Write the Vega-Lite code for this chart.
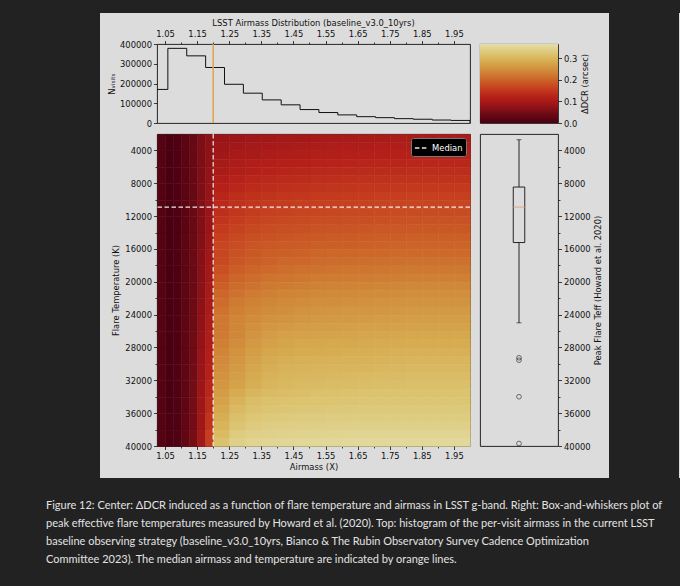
{
  "$schema": "https://vega.github.io/schema/vega-lite/v6.json",
  "background": "#dcdcdc",
  "padding": 0,
  "spacing": 0,
  "config": {
    "font": "DejaVu Sans",
    "view": {"stroke": "#111111", "strokeWidth": 0.9},
    "axis": {
      "domain": false, "grid": false,
      "labelFont": "DejaVu Sans", "labelFontSize": 8.4, "labelColor": "#111111", "labelPadding": 2,
      "titleFont": "DejaVu Sans", "titleFontSize": 8.4, "titleFontWeight": "normal", "titleColor": "#111111",
      "tickColor": "#111111", "tickWidth": 0.8, "tickSize": 3.5
    },
    "title": {"font": "DejaVu Sans", "fontSize": 8.4, "fontWeight": "normal", "color": "#111111"}
  },
  "datasets": {
    "hist": [
      {"e": 1.0, "n": 170000}, {"e": 1.0588, "n": 378000}, {"e": 1.1176, "n": 340000},
      {"e": 1.1765, "n": 281000}, {"e": 1.2353, "n": 196000}, {"e": 1.2941, "n": 151000},
      {"e": 1.3529, "n": 117000}, {"e": 1.4118, "n": 92000}, {"e": 1.4706, "n": 68000},
      {"e": 1.5294, "n": 53000}, {"e": 1.5882, "n": 41000}, {"e": 1.6471, "n": 32000},
      {"e": 1.7059, "n": 27000}, {"e": 1.7647, "n": 22000}, {"e": 1.8235, "n": 19000},
      {"e": 1.8824, "n": 15000}, {"e": 1.9412, "n": 13000}, {"e": 2.0, "n": 0}
    ],
    "box": [{"s": "H", "lo": 2700, "q1": 8460, "med": 10900, "q3": 15220, "hi": 25000}],
    "out": [{"s": "H", "t": 29250}, {"s": "H", "t": 29550}, {"s": "H", "t": 34000}, {"s": "H", "t": 39700}],
    "hl": [
      {"a":1.025,"t":2000,"v":0.012},{"a":1.05,"t":2000,"v":0},{"a":1.075,"t":2000,"v":0.005},{"a":1.1,"t":2000,"v":0.02},{"a":1.125,"t":2000,"v":0.035},{"a":1.15,"t":2000,"v":0.055},{"a":1.175,"t":2000,"v":0.07},
      {"a":1.025,"t":4000,"v":0.012},{"a":1.05,"t":4000,"v":0},{"a":1.075,"t":4000,"v":0.005},{"a":1.1,"t":4000,"v":0.02},{"a":1.125,"t":4000,"v":0.035},{"a":1.15,"t":4000,"v":0.056},{"a":1.175,"t":4000,"v":0.072},
      {"a":1.025,"t":6000,"v":0.012},{"a":1.05,"t":6000,"v":0},{"a":1.075,"t":6000,"v":0.005},{"a":1.1,"t":6000,"v":0.02},{"a":1.125,"t":6000,"v":0.036},{"a":1.15,"t":6000,"v":0.057},{"a":1.175,"t":6000,"v":0.075},
      {"a":1.025,"t":8000,"v":0.012},{"a":1.05,"t":8000,"v":0},{"a":1.075,"t":8000,"v":0.005},{"a":1.1,"t":8000,"v":0.021},{"a":1.125,"t":8000,"v":0.036},{"a":1.15,"t":8000,"v":0.058},{"a":1.175,"t":8000,"v":0.078},
      {"a":1.025,"t":10000,"v":0.012},{"a":1.05,"t":10000,"v":0},{"a":1.075,"t":10000,"v":0.005},{"a":1.1,"t":10000,"v":0.021},{"a":1.125,"t":10000,"v":0.037},{"a":1.15,"t":10000,"v":0.059},{"a":1.175,"t":10000,"v":0.081},
      {"a":1.025,"t":12000,"v":0.012},{"a":1.05,"t":12000,"v":0},{"a":1.075,"t":12000,"v":0.005},{"a":1.1,"t":12000,"v":0.021},{"a":1.125,"t":12000,"v":0.037},{"a":1.15,"t":12000,"v":0.06},{"a":1.175,"t":12000,"v":0.084},
      {"a":1.025,"t":14000,"v":0.012},{"a":1.05,"t":14000,"v":0},{"a":1.075,"t":14000,"v":0.005},{"a":1.1,"t":14000,"v":0.022},{"a":1.125,"t":14000,"v":0.038},{"a":1.15,"t":14000,"v":0.062},{"a":1.175,"t":14000,"v":0.087},
      {"a":1.025,"t":16000,"v":0.012},{"a":1.05,"t":16000,"v":0},{"a":1.075,"t":16000,"v":0.005},{"a":1.1,"t":16000,"v":0.022},{"a":1.125,"t":16000,"v":0.039},{"a":1.15,"t":16000,"v":0.064},{"a":1.175,"t":16000,"v":0.091},
      {"a":1.025,"t":18000,"v":0.012},{"a":1.05,"t":18000,"v":0},{"a":1.075,"t":18000,"v":0.005},{"a":1.1,"t":18000,"v":0.022},{"a":1.125,"t":18000,"v":0.04},{"a":1.15,"t":18000,"v":0.066},{"a":1.175,"t":18000,"v":0.095},
      {"a":1.025,"t":20000,"v":0.012},{"a":1.05,"t":20000,"v":0},{"a":1.075,"t":20000,"v":0.005},{"a":1.1,"t":20000,"v":0.023},{"a":1.125,"t":20000,"v":0.041},{"a":1.15,"t":20000,"v":0.068},{"a":1.175,"t":20000,"v":0.099},
      {"a":1.025,"t":22000,"v":0.012},{"a":1.05,"t":22000,"v":0},{"a":1.075,"t":22000,"v":0.005},{"a":1.1,"t":22000,"v":0.023},{"a":1.125,"t":22000,"v":0.042},{"a":1.15,"t":22000,"v":0.07},{"a":1.175,"t":22000,"v":0.103},
      {"a":1.025,"t":24000,"v":0.012},{"a":1.05,"t":24000,"v":0},{"a":1.075,"t":24000,"v":0.005},{"a":1.1,"t":24000,"v":0.024},{"a":1.125,"t":24000,"v":0.043},{"a":1.15,"t":24000,"v":0.073},{"a":1.175,"t":24000,"v":0.107},
      {"a":1.025,"t":26000,"v":0.012},{"a":1.05,"t":26000,"v":0},{"a":1.075,"t":26000,"v":0.005},{"a":1.1,"t":26000,"v":0.024},{"a":1.125,"t":26000,"v":0.044},{"a":1.15,"t":26000,"v":0.076},{"a":1.175,"t":26000,"v":0.111},
      {"a":1.025,"t":28000,"v":0.012},{"a":1.05,"t":28000,"v":0},{"a":1.075,"t":28000,"v":0.005},{"a":1.1,"t":28000,"v":0.025},{"a":1.125,"t":28000,"v":0.045},{"a":1.15,"t":28000,"v":0.079},{"a":1.175,"t":28000,"v":0.116},
      {"a":1.025,"t":30000,"v":0.012},{"a":1.05,"t":30000,"v":0},{"a":1.075,"t":30000,"v":0.006},{"a":1.1,"t":30000,"v":0.025},{"a":1.125,"t":30000,"v":0.046},{"a":1.15,"t":30000,"v":0.082},{"a":1.175,"t":30000,"v":0.121},
      {"a":1.025,"t":32000,"v":0.012},{"a":1.05,"t":32000,"v":0},{"a":1.075,"t":32000,"v":0.006},{"a":1.1,"t":32000,"v":0.026},{"a":1.125,"t":32000,"v":0.047},{"a":1.15,"t":32000,"v":0.085},{"a":1.175,"t":32000,"v":0.127},
      {"a":1.025,"t":34000,"v":0.012},{"a":1.05,"t":34000,"v":0},{"a":1.075,"t":34000,"v":0.006},{"a":1.1,"t":34000,"v":0.026},{"a":1.125,"t":34000,"v":0.048},{"a":1.15,"t":34000,"v":0.088},{"a":1.175,"t":34000,"v":0.135},
      {"a":1.025,"t":36000,"v":0.012},{"a":1.05,"t":36000,"v":0.001},{"a":1.075,"t":36000,"v":0.006},{"a":1.1,"t":36000,"v":0.027},{"a":1.125,"t":36000,"v":0.049},{"a":1.15,"t":36000,"v":0.091},{"a":1.175,"t":36000,"v":0.145},
      {"a":1.025,"t":38000,"v":0.012},{"a":1.05,"t":38000,"v":0.001},{"a":1.075,"t":38000,"v":0.007},{"a":1.1,"t":38000,"v":0.027},{"a":1.125,"t":38000,"v":0.05},{"a":1.15,"t":38000,"v":0.095},{"a":1.175,"t":38000,"v":0.158}
    ],
    "hr": [
      {"a":1.2,"t":2000,"v":0.081},{"a":1.25,"t":2000,"v":0.086},{"a":1.3,"t":2000,"v":0.09},{"a":1.35,"t":2000,"v":0.093},{"a":1.4,"t":2000,"v":0.095},{"a":1.45,"t":2000,"v":0.097},{"a":1.5,"t":2000,"v":0.1},{"a":1.55,"t":2000,"v":0.101},{"a":1.6,"t":2000,"v":0.102},{"a":1.65,"t":2000,"v":0.103},{"a":1.7,"t":2000,"v":0.104},{"a":1.75,"t":2000,"v":0.105},{"a":1.8,"t":2000,"v":0.106},{"a":1.85,"t":2000,"v":0.106},{"a":1.9,"t":2000,"v":0.106},{"a":1.95,"t":2000,"v":0.106},
      {"a":1.2,"t":3000,"v":0.088},{"a":1.25,"t":3000,"v":0.094},{"a":1.3,"t":3000,"v":0.098},{"a":1.35,"t":3000,"v":0.101},{"a":1.4,"t":3000,"v":0.103},{"a":1.45,"t":3000,"v":0.105},{"a":1.5,"t":3000,"v":0.108},{"a":1.55,"t":3000,"v":0.109},{"a":1.6,"t":3000,"v":0.11},{"a":1.65,"t":3000,"v":0.111},{"a":1.7,"t":3000,"v":0.112},{"a":1.75,"t":3000,"v":0.113},{"a":1.8,"t":3000,"v":0.114},{"a":1.85,"t":3000,"v":0.114},{"a":1.9,"t":3000,"v":0.114},{"a":1.95,"t":3000,"v":0.114},
      {"a":1.2,"t":4000,"v":0.093},{"a":1.25,"t":4000,"v":0.1},{"a":1.3,"t":4000,"v":0.104},{"a":1.35,"t":4000,"v":0.107},{"a":1.4,"t":4000,"v":0.11},{"a":1.45,"t":4000,"v":0.112},{"a":1.5,"t":4000,"v":0.115},{"a":1.55,"t":4000,"v":0.116},{"a":1.6,"t":4000,"v":0.117},{"a":1.65,"t":4000,"v":0.118},{"a":1.7,"t":4000,"v":0.119},{"a":1.75,"t":4000,"v":0.12},{"a":1.8,"t":4000,"v":0.121},{"a":1.85,"t":4000,"v":0.121},{"a":1.9,"t":4000,"v":0.121},{"a":1.95,"t":4000,"v":0.121},
      {"a":1.2,"t":5000,"v":0.099},{"a":1.25,"t":5000,"v":0.107},{"a":1.3,"t":5000,"v":0.112},{"a":1.35,"t":5000,"v":0.115},{"a":1.4,"t":5000,"v":0.118},{"a":1.45,"t":5000,"v":0.12},{"a":1.5,"t":5000,"v":0.123},{"a":1.55,"t":5000,"v":0.124},{"a":1.6,"t":5000,"v":0.125},{"a":1.65,"t":5000,"v":0.126},{"a":1.7,"t":5000,"v":0.127},{"a":1.75,"t":5000,"v":0.128},{"a":1.8,"t":5000,"v":0.129},{"a":1.85,"t":5000,"v":0.129},{"a":1.9,"t":5000,"v":0.129},{"a":1.95,"t":5000,"v":0.129},
      {"a":1.2,"t":6000,"v":0.106},{"a":1.25,"t":6000,"v":0.114},{"a":1.3,"t":6000,"v":0.119},{"a":1.35,"t":6000,"v":0.122},{"a":1.4,"t":6000,"v":0.125},{"a":1.45,"t":6000,"v":0.127},{"a":1.5,"t":6000,"v":0.13},{"a":1.55,"t":6000,"v":0.131},{"a":1.6,"t":6000,"v":0.132},{"a":1.65,"t":6000,"v":0.133},{"a":1.7,"t":6000,"v":0.134},{"a":1.75,"t":6000,"v":0.135},{"a":1.8,"t":6000,"v":0.136},{"a":1.85,"t":6000,"v":0.136},{"a":1.9,"t":6000,"v":0.136},{"a":1.95,"t":6000,"v":0.136},
      {"a":1.2,"t":7000,"v":0.114},{"a":1.25,"t":7000,"v":0.122},{"a":1.3,"t":7000,"v":0.127},{"a":1.35,"t":7000,"v":0.13},{"a":1.4,"t":7000,"v":0.133},{"a":1.45,"t":7000,"v":0.135},{"a":1.5,"t":7000,"v":0.138},{"a":1.55,"t":7000,"v":0.139},{"a":1.6,"t":7000,"v":0.14},{"a":1.65,"t":7000,"v":0.141},{"a":1.7,"t":7000,"v":0.142},{"a":1.75,"t":7000,"v":0.143},{"a":1.8,"t":7000,"v":0.144},{"a":1.85,"t":7000,"v":0.144},{"a":1.9,"t":7000,"v":0.144},{"a":1.95,"t":7000,"v":0.144},
      {"a":1.2,"t":8000,"v":0.121},{"a":1.25,"t":8000,"v":0.129},{"a":1.3,"t":8000,"v":0.134},{"a":1.35,"t":8000,"v":0.137},{"a":1.4,"t":8000,"v":0.14},{"a":1.45,"t":8000,"v":0.142},{"a":1.5,"t":8000,"v":0.145},{"a":1.55,"t":8000,"v":0.146},{"a":1.6,"t":8000,"v":0.147},{"a":1.65,"t":8000,"v":0.148},{"a":1.7,"t":8000,"v":0.149},{"a":1.75,"t":8000,"v":0.15},{"a":1.8,"t":8000,"v":0.151},{"a":1.85,"t":8000,"v":0.151},{"a":1.9,"t":8000,"v":0.151},{"a":1.95,"t":8000,"v":0.151},
      {"a":1.2,"t":9000,"v":0.127},{"a":1.25,"t":9000,"v":0.136},{"a":1.3,"t":9000,"v":0.142},{"a":1.35,"t":9000,"v":0.145},{"a":1.4,"t":9000,"v":0.148},{"a":1.45,"t":9000,"v":0.15},{"a":1.5,"t":9000,"v":0.153},{"a":1.55,"t":9000,"v":0.154},{"a":1.6,"t":9000,"v":0.155},{"a":1.65,"t":9000,"v":0.156},{"a":1.7,"t":9000,"v":0.157},{"a":1.75,"t":9000,"v":0.158},{"a":1.8,"t":9000,"v":0.159},{"a":1.85,"t":9000,"v":0.159},{"a":1.9,"t":9000,"v":0.159},{"a":1.95,"t":9000,"v":0.159},
      {"a":1.2,"t":10000,"v":0.131},{"a":1.25,"t":10000,"v":0.141},{"a":1.3,"t":10000,"v":0.148},{"a":1.35,"t":10000,"v":0.152},{"a":1.4,"t":10000,"v":0.155},{"a":1.45,"t":10000,"v":0.157},{"a":1.5,"t":10000,"v":0.16},{"a":1.55,"t":10000,"v":0.161},{"a":1.6,"t":10000,"v":0.162},{"a":1.65,"t":10000,"v":0.163},{"a":1.7,"t":10000,"v":0.164},{"a":1.75,"t":10000,"v":0.165},{"a":1.8,"t":10000,"v":0.166},{"a":1.85,"t":10000,"v":0.166},{"a":1.9,"t":10000,"v":0.166},{"a":1.95,"t":10000,"v":0.166},
      {"a":1.2,"t":11000,"v":0.138},{"a":1.25,"t":11000,"v":0.148},{"a":1.3,"t":11000,"v":0.155},{"a":1.35,"t":11000,"v":0.159},{"a":1.4,"t":11000,"v":0.162},{"a":1.45,"t":11000,"v":0.164},{"a":1.5,"t":11000,"v":0.167},{"a":1.55,"t":11000,"v":0.168},{"a":1.6,"t":11000,"v":0.169},{"a":1.65,"t":11000,"v":0.17},{"a":1.7,"t":11000,"v":0.171},{"a":1.75,"t":11000,"v":0.172},{"a":1.8,"t":11000,"v":0.173},{"a":1.85,"t":11000,"v":0.173},{"a":1.9,"t":11000,"v":0.173},{"a":1.95,"t":11000,"v":0.173},
      {"a":1.2,"t":12000,"v":0.145},{"a":1.25,"t":12000,"v":0.155},{"a":1.3,"t":12000,"v":0.162},{"a":1.35,"t":12000,"v":0.166},{"a":1.4,"t":12000,"v":0.169},{"a":1.45,"t":12000,"v":0.171},{"a":1.5,"t":12000,"v":0.174},{"a":1.55,"t":12000,"v":0.175},{"a":1.6,"t":12000,"v":0.176},{"a":1.65,"t":12000,"v":0.177},{"a":1.7,"t":12000,"v":0.178},{"a":1.75,"t":12000,"v":0.179},{"a":1.8,"t":12000,"v":0.18},{"a":1.85,"t":12000,"v":0.18},{"a":1.9,"t":12000,"v":0.18},{"a":1.95,"t":12000,"v":0.18},
      {"a":1.2,"t":13000,"v":0.152},{"a":1.25,"t":13000,"v":0.162},{"a":1.3,"t":13000,"v":0.169},{"a":1.35,"t":13000,"v":0.173},{"a":1.4,"t":13000,"v":0.176},{"a":1.45,"t":13000,"v":0.178},{"a":1.5,"t":13000,"v":0.181},{"a":1.55,"t":13000,"v":0.182},{"a":1.6,"t":13000,"v":0.183},{"a":1.65,"t":13000,"v":0.184},{"a":1.7,"t":13000,"v":0.185},{"a":1.75,"t":13000,"v":0.186},{"a":1.8,"t":13000,"v":0.187},{"a":1.85,"t":13000,"v":0.187},{"a":1.9,"t":13000,"v":0.187},{"a":1.95,"t":13000,"v":0.187},
      {"a":1.2,"t":14000,"v":0.159},{"a":1.25,"t":14000,"v":0.169},{"a":1.3,"t":14000,"v":0.176},{"a":1.35,"t":14000,"v":0.18},{"a":1.4,"t":14000,"v":0.183},{"a":1.45,"t":14000,"v":0.185},{"a":1.5,"t":14000,"v":0.188},{"a":1.55,"t":14000,"v":0.189},{"a":1.6,"t":14000,"v":0.19},{"a":1.65,"t":14000,"v":0.191},{"a":1.7,"t":14000,"v":0.192},{"a":1.75,"t":14000,"v":0.193},{"a":1.8,"t":14000,"v":0.194},{"a":1.85,"t":14000,"v":0.194},{"a":1.9,"t":14000,"v":0.194},{"a":1.95,"t":14000,"v":0.194},
      {"a":1.2,"t":15000,"v":0.165},{"a":1.25,"t":15000,"v":0.175},{"a":1.3,"t":15000,"v":0.182},{"a":1.35,"t":15000,"v":0.186},{"a":1.4,"t":15000,"v":0.189},{"a":1.45,"t":15000,"v":0.191},{"a":1.5,"t":15000,"v":0.194},{"a":1.55,"t":15000,"v":0.195},{"a":1.6,"t":15000,"v":0.196},{"a":1.65,"t":15000,"v":0.197},{"a":1.7,"t":15000,"v":0.198},{"a":1.75,"t":15000,"v":0.199},{"a":1.8,"t":15000,"v":0.2},{"a":1.85,"t":15000,"v":0.2},{"a":1.9,"t":15000,"v":0.2},{"a":1.95,"t":15000,"v":0.2},
      {"a":1.2,"t":16000,"v":0.167},{"a":1.25,"t":16000,"v":0.18},{"a":1.3,"t":16000,"v":0.187},{"a":1.35,"t":16000,"v":0.192},{"a":1.4,"t":16000,"v":0.196},{"a":1.45,"t":16000,"v":0.198},{"a":1.5,"t":16000,"v":0.201},{"a":1.55,"t":16000,"v":0.202},{"a":1.6,"t":16000,"v":0.203},{"a":1.65,"t":16000,"v":0.204},{"a":1.7,"t":16000,"v":0.205},{"a":1.75,"t":16000,"v":0.206},{"a":1.8,"t":16000,"v":0.207},{"a":1.85,"t":16000,"v":0.207},{"a":1.9,"t":16000,"v":0.207},{"a":1.95,"t":16000,"v":0.207},
      {"a":1.2,"t":17000,"v":0.169},{"a":1.25,"t":17000,"v":0.184},{"a":1.3,"t":17000,"v":0.192},{"a":1.35,"t":17000,"v":0.198},{"a":1.4,"t":17000,"v":0.202},{"a":1.45,"t":17000,"v":0.205},{"a":1.5,"t":17000,"v":0.208},{"a":1.55,"t":17000,"v":0.209},{"a":1.6,"t":17000,"v":0.21},{"a":1.65,"t":17000,"v":0.211},{"a":1.7,"t":17000,"v":0.212},{"a":1.75,"t":17000,"v":0.213},{"a":1.8,"t":17000,"v":0.214},{"a":1.85,"t":17000,"v":0.214},{"a":1.9,"t":17000,"v":0.214},{"a":1.95,"t":17000,"v":0.214},
      {"a":1.2,"t":18000,"v":0.178},{"a":1.25,"t":18000,"v":0.193},{"a":1.3,"t":18000,"v":0.201},{"a":1.35,"t":18000,"v":0.207},{"a":1.4,"t":18000,"v":0.211},{"a":1.45,"t":18000,"v":0.214},{"a":1.5,"t":18000,"v":0.217},{"a":1.55,"t":18000,"v":0.218},{"a":1.6,"t":18000,"v":0.219},{"a":1.65,"t":18000,"v":0.22},{"a":1.7,"t":18000,"v":0.221},{"a":1.75,"t":18000,"v":0.222},{"a":1.8,"t":18000,"v":0.223},{"a":1.85,"t":18000,"v":0.223},{"a":1.9,"t":18000,"v":0.223},{"a":1.95,"t":18000,"v":0.223},
      {"a":1.2,"t":19000,"v":0.186},{"a":1.25,"t":19000,"v":0.201},{"a":1.3,"t":19000,"v":0.209},{"a":1.35,"t":19000,"v":0.215},{"a":1.4,"t":19000,"v":0.219},{"a":1.45,"t":19000,"v":0.222},{"a":1.5,"t":19000,"v":0.225},{"a":1.55,"t":19000,"v":0.226},{"a":1.6,"t":19000,"v":0.227},{"a":1.65,"t":19000,"v":0.228},{"a":1.7,"t":19000,"v":0.229},{"a":1.75,"t":19000,"v":0.23},{"a":1.8,"t":19000,"v":0.231},{"a":1.85,"t":19000,"v":0.231},{"a":1.9,"t":19000,"v":0.231},{"a":1.95,"t":19000,"v":0.231},
      {"a":1.2,"t":20000,"v":0.194},{"a":1.25,"t":20000,"v":0.209},{"a":1.3,"t":20000,"v":0.217},{"a":1.35,"t":20000,"v":0.223},{"a":1.4,"t":20000,"v":0.227},{"a":1.45,"t":20000,"v":0.23},{"a":1.5,"t":20000,"v":0.233},{"a":1.55,"t":20000,"v":0.234},{"a":1.6,"t":20000,"v":0.235},{"a":1.65,"t":20000,"v":0.236},{"a":1.7,"t":20000,"v":0.237},{"a":1.75,"t":20000,"v":0.238},{"a":1.8,"t":20000,"v":0.239},{"a":1.85,"t":20000,"v":0.239},{"a":1.9,"t":20000,"v":0.239},{"a":1.95,"t":20000,"v":0.239},
      {"a":1.2,"t":21000,"v":0.202},{"a":1.25,"t":21000,"v":0.217},{"a":1.3,"t":21000,"v":0.225},{"a":1.35,"t":21000,"v":0.231},{"a":1.4,"t":21000,"v":0.235},{"a":1.45,"t":21000,"v":0.238},{"a":1.5,"t":21000,"v":0.241},{"a":1.55,"t":21000,"v":0.242},{"a":1.6,"t":21000,"v":0.243},{"a":1.65,"t":21000,"v":0.244},{"a":1.7,"t":21000,"v":0.245},{"a":1.75,"t":21000,"v":0.246},{"a":1.8,"t":21000,"v":0.247},{"a":1.85,"t":21000,"v":0.247},{"a":1.9,"t":21000,"v":0.247},{"a":1.95,"t":21000,"v":0.247},
      {"a":1.2,"t":22000,"v":0.209},{"a":1.25,"t":22000,"v":0.224},{"a":1.3,"t":22000,"v":0.232},{"a":1.35,"t":22000,"v":0.238},{"a":1.4,"t":22000,"v":0.242},{"a":1.45,"t":22000,"v":0.245},{"a":1.5,"t":22000,"v":0.248},{"a":1.55,"t":22000,"v":0.249},{"a":1.6,"t":22000,"v":0.25},{"a":1.65,"t":22000,"v":0.251},{"a":1.7,"t":22000,"v":0.252},{"a":1.75,"t":22000,"v":0.253},{"a":1.8,"t":22000,"v":0.254},{"a":1.85,"t":22000,"v":0.254},{"a":1.9,"t":22000,"v":0.254},{"a":1.95,"t":22000,"v":0.254},
      {"a":1.2,"t":23000,"v":0.216},{"a":1.25,"t":23000,"v":0.231},{"a":1.3,"t":23000,"v":0.239},{"a":1.35,"t":23000,"v":0.245},{"a":1.4,"t":23000,"v":0.249},{"a":1.45,"t":23000,"v":0.252},{"a":1.5,"t":23000,"v":0.255},{"a":1.55,"t":23000,"v":0.256},{"a":1.6,"t":23000,"v":0.257},{"a":1.65,"t":23000,"v":0.258},{"a":1.7,"t":23000,"v":0.259},{"a":1.75,"t":23000,"v":0.26},{"a":1.8,"t":23000,"v":0.261},{"a":1.85,"t":23000,"v":0.261},{"a":1.9,"t":23000,"v":0.261},{"a":1.95,"t":23000,"v":0.261},
      {"a":1.2,"t":24000,"v":0.222},{"a":1.25,"t":24000,"v":0.237},{"a":1.3,"t":24000,"v":0.245},{"a":1.35,"t":24000,"v":0.251},{"a":1.4,"t":24000,"v":0.255},{"a":1.45,"t":24000,"v":0.258},{"a":1.5,"t":24000,"v":0.261},{"a":1.55,"t":24000,"v":0.262},{"a":1.6,"t":24000,"v":0.263},{"a":1.65,"t":24000,"v":0.264},{"a":1.7,"t":24000,"v":0.265},{"a":1.75,"t":24000,"v":0.266},{"a":1.8,"t":24000,"v":0.267},{"a":1.85,"t":24000,"v":0.267},{"a":1.9,"t":24000,"v":0.267},{"a":1.95,"t":24000,"v":0.267},
      {"a":1.2,"t":25000,"v":0.223},{"a":1.25,"t":25000,"v":0.238},{"a":1.3,"t":25000,"v":0.25},{"a":1.35,"t":25000,"v":0.258},{"a":1.4,"t":25000,"v":0.262},{"a":1.45,"t":25000,"v":0.265},{"a":1.5,"t":25000,"v":0.267},{"a":1.55,"t":25000,"v":0.268},{"a":1.6,"t":25000,"v":0.269},{"a":1.65,"t":25000,"v":0.27},{"a":1.7,"t":25000,"v":0.271},{"a":1.75,"t":25000,"v":0.272},{"a":1.8,"t":25000,"v":0.273},{"a":1.85,"t":25000,"v":0.273},{"a":1.9,"t":25000,"v":0.273},{"a":1.95,"t":25000,"v":0.273},
      {"a":1.2,"t":26000,"v":0.225},{"a":1.25,"t":26000,"v":0.24},{"a":1.3,"t":26000,"v":0.255},{"a":1.35,"t":26000,"v":0.265},{"a":1.4,"t":26000,"v":0.27},{"a":1.45,"t":26000,"v":0.273},{"a":1.5,"t":26000,"v":0.274},{"a":1.55,"t":26000,"v":0.275},{"a":1.6,"t":26000,"v":0.276},{"a":1.65,"t":26000,"v":0.277},{"a":1.7,"t":26000,"v":0.278},{"a":1.75,"t":26000,"v":0.279},{"a":1.8,"t":26000,"v":0.28},{"a":1.85,"t":26000,"v":0.28},{"a":1.9,"t":26000,"v":0.28},{"a":1.95,"t":26000,"v":0.28},
      {"a":1.2,"t":27000,"v":0.231},{"a":1.25,"t":27000,"v":0.246},{"a":1.3,"t":27000,"v":0.261},{"a":1.35,"t":27000,"v":0.271},{"a":1.4,"t":27000,"v":0.276},{"a":1.45,"t":27000,"v":0.279},{"a":1.5,"t":27000,"v":0.28},{"a":1.55,"t":27000,"v":0.281},{"a":1.6,"t":27000,"v":0.282},{"a":1.65,"t":27000,"v":0.283},{"a":1.7,"t":27000,"v":0.284},{"a":1.75,"t":27000,"v":0.285},{"a":1.8,"t":27000,"v":0.286},{"a":1.85,"t":27000,"v":0.286},{"a":1.9,"t":27000,"v":0.286},{"a":1.95,"t":27000,"v":0.286},
      {"a":1.2,"t":28000,"v":0.237},{"a":1.25,"t":28000,"v":0.252},{"a":1.3,"t":28000,"v":0.267},{"a":1.35,"t":28000,"v":0.277},{"a":1.4,"t":28000,"v":0.282},{"a":1.45,"t":28000,"v":0.285},{"a":1.5,"t":28000,"v":0.286},{"a":1.55,"t":28000,"v":0.287},{"a":1.6,"t":28000,"v":0.288},{"a":1.65,"t":28000,"v":0.289},{"a":1.7,"t":28000,"v":0.29},{"a":1.75,"t":28000,"v":0.291},{"a":1.8,"t":28000,"v":0.292},{"a":1.85,"t":28000,"v":0.292},{"a":1.9,"t":28000,"v":0.292},{"a":1.95,"t":28000,"v":0.292},
      {"a":1.2,"t":29000,"v":0.243},{"a":1.25,"t":29000,"v":0.258},{"a":1.3,"t":29000,"v":0.273},{"a":1.35,"t":29000,"v":0.283},{"a":1.4,"t":29000,"v":0.288},{"a":1.45,"t":29000,"v":0.291},{"a":1.5,"t":29000,"v":0.292},{"a":1.55,"t":29000,"v":0.293},{"a":1.6,"t":29000,"v":0.294},{"a":1.65,"t":29000,"v":0.295},{"a":1.7,"t":29000,"v":0.296},{"a":1.75,"t":29000,"v":0.297},{"a":1.8,"t":29000,"v":0.298},{"a":1.85,"t":29000,"v":0.298},{"a":1.9,"t":29000,"v":0.298},{"a":1.95,"t":29000,"v":0.298},
      {"a":1.2,"t":30000,"v":0.248},{"a":1.25,"t":30000,"v":0.263},{"a":1.3,"t":30000,"v":0.278},{"a":1.35,"t":30000,"v":0.288},{"a":1.4,"t":30000,"v":0.293},{"a":1.45,"t":30000,"v":0.296},{"a":1.5,"t":30000,"v":0.297},{"a":1.55,"t":30000,"v":0.298},{"a":1.6,"t":30000,"v":0.299},{"a":1.65,"t":30000,"v":0.3},{"a":1.7,"t":30000,"v":0.301},{"a":1.75,"t":30000,"v":0.302},{"a":1.8,"t":30000,"v":0.303},{"a":1.85,"t":30000,"v":0.303},{"a":1.9,"t":30000,"v":0.303},{"a":1.95,"t":30000,"v":0.303},
      {"a":1.2,"t":31000,"v":0.253},{"a":1.25,"t":31000,"v":0.268},{"a":1.3,"t":31000,"v":0.283},{"a":1.35,"t":31000,"v":0.293},{"a":1.4,"t":31000,"v":0.298},{"a":1.45,"t":31000,"v":0.301},{"a":1.5,"t":31000,"v":0.302},{"a":1.55,"t":31000,"v":0.303},{"a":1.6,"t":31000,"v":0.304},{"a":1.65,"t":31000,"v":0.305},{"a":1.7,"t":31000,"v":0.306},{"a":1.75,"t":31000,"v":0.307},{"a":1.8,"t":31000,"v":0.308},{"a":1.85,"t":31000,"v":0.308},{"a":1.9,"t":31000,"v":0.308},{"a":1.95,"t":31000,"v":0.308},
      {"a":1.2,"t":32000,"v":0.258},{"a":1.25,"t":32000,"v":0.273},{"a":1.3,"t":32000,"v":0.288},{"a":1.35,"t":32000,"v":0.298},{"a":1.4,"t":32000,"v":0.303},{"a":1.45,"t":32000,"v":0.306},{"a":1.5,"t":32000,"v":0.307},{"a":1.55,"t":32000,"v":0.308},{"a":1.6,"t":32000,"v":0.309},{"a":1.65,"t":32000,"v":0.31},{"a":1.7,"t":32000,"v":0.311},{"a":1.75,"t":32000,"v":0.312},{"a":1.8,"t":32000,"v":0.313},{"a":1.85,"t":32000,"v":0.313},{"a":1.9,"t":32000,"v":0.313},{"a":1.95,"t":32000,"v":0.313},
      {"a":1.2,"t":33000,"v":0.265},{"a":1.25,"t":33000,"v":0.285},{"a":1.3,"t":33000,"v":0.3},{"a":1.35,"t":33000,"v":0.307},{"a":1.4,"t":33000,"v":0.31},{"a":1.45,"t":33000,"v":0.312},{"a":1.5,"t":33000,"v":0.315},{"a":1.55,"t":33000,"v":0.316},{"a":1.6,"t":33000,"v":0.317},{"a":1.65,"t":33000,"v":0.318},{"a":1.7,"t":33000,"v":0.318},{"a":1.75,"t":33000,"v":0.318},{"a":1.8,"t":33000,"v":0.318},{"a":1.85,"t":33000,"v":0.318},{"a":1.9,"t":33000,"v":0.318},{"a":1.95,"t":33000,"v":0.318},
      {"a":1.2,"t":34000,"v":0.273},{"a":1.25,"t":34000,"v":0.296},{"a":1.3,"t":34000,"v":0.31},{"a":1.35,"t":34000,"v":0.315},{"a":1.4,"t":34000,"v":0.317},{"a":1.45,"t":34000,"v":0.318},{"a":1.5,"t":34000,"v":0.32},{"a":1.55,"t":34000,"v":0.321},{"a":1.6,"t":34000,"v":0.322},{"a":1.65,"t":34000,"v":0.323},{"a":1.7,"t":34000,"v":0.323},{"a":1.75,"t":34000,"v":0.323},{"a":1.8,"t":34000,"v":0.323},{"a":1.85,"t":34000,"v":0.323},{"a":1.9,"t":34000,"v":0.323},{"a":1.95,"t":34000,"v":0.323},
      {"a":1.2,"t":35000,"v":0.28},{"a":1.25,"t":35000,"v":0.304},{"a":1.3,"t":35000,"v":0.316},{"a":1.35,"t":35000,"v":0.321},{"a":1.4,"t":35000,"v":0.323},{"a":1.45,"t":35000,"v":0.324},{"a":1.5,"t":35000,"v":0.325},{"a":1.55,"t":35000,"v":0.326},{"a":1.6,"t":35000,"v":0.327},{"a":1.65,"t":35000,"v":0.328},{"a":1.7,"t":35000,"v":0.328},{"a":1.75,"t":35000,"v":0.328},{"a":1.8,"t":35000,"v":0.328},{"a":1.85,"t":35000,"v":0.328},{"a":1.9,"t":35000,"v":0.328},{"a":1.95,"t":35000,"v":0.328},
      {"a":1.2,"t":36000,"v":0.289},{"a":1.25,"t":36000,"v":0.313},{"a":1.3,"t":36000,"v":0.324},{"a":1.35,"t":36000,"v":0.328},{"a":1.4,"t":36000,"v":0.33},{"a":1.45,"t":36000,"v":0.331},{"a":1.5,"t":36000,"v":0.332},{"a":1.55,"t":36000,"v":0.333},{"a":1.6,"t":36000,"v":0.334},{"a":1.65,"t":36000,"v":0.334},{"a":1.7,"t":36000,"v":0.334},{"a":1.75,"t":36000,"v":0.334},{"a":1.8,"t":36000,"v":0.334},{"a":1.85,"t":36000,"v":0.334},{"a":1.9,"t":36000,"v":0.334},{"a":1.95,"t":36000,"v":0.334},
      {"a":1.2,"t":37000,"v":0.297},{"a":1.25,"t":37000,"v":0.322},{"a":1.3,"t":37000,"v":0.331},{"a":1.35,"t":37000,"v":0.335},{"a":1.4,"t":37000,"v":0.336},{"a":1.45,"t":37000,"v":0.337},{"a":1.5,"t":37000,"v":0.338},{"a":1.55,"t":37000,"v":0.339},{"a":1.6,"t":37000,"v":0.34},{"a":1.65,"t":37000,"v":0.34},{"a":1.7,"t":37000,"v":0.34},{"a":1.75,"t":37000,"v":0.34},{"a":1.8,"t":37000,"v":0.34},{"a":1.85,"t":37000,"v":0.34},{"a":1.9,"t":37000,"v":0.34},{"a":1.95,"t":37000,"v":0.34},
      {"a":1.2,"t":38000,"v":0.307},{"a":1.25,"t":38000,"v":0.332},{"a":1.3,"t":38000,"v":0.339},{"a":1.35,"t":38000,"v":0.342},{"a":1.4,"t":38000,"v":0.344},{"a":1.45,"t":38000,"v":0.345},{"a":1.5,"t":38000,"v":0.345},{"a":1.55,"t":38000,"v":0.346},{"a":1.6,"t":38000,"v":0.347},{"a":1.65,"t":38000,"v":0.347},{"a":1.7,"t":38000,"v":0.347},{"a":1.75,"t":38000,"v":0.347},{"a":1.8,"t":38000,"v":0.347},{"a":1.85,"t":38000,"v":0.347},{"a":1.9,"t":38000,"v":0.347},{"a":1.95,"t":38000,"v":0.347},
      {"a":1.2,"t":39000,"v":0.315},{"a":1.25,"t":39000,"v":0.34},{"a":1.3,"t":39000,"v":0.346},{"a":1.35,"t":39000,"v":0.349},{"a":1.4,"t":39000,"v":0.35},{"a":1.45,"t":39000,"v":0.351},{"a":1.5,"t":39000,"v":0.351},{"a":1.55,"t":39000,"v":0.352},{"a":1.6,"t":39000,"v":0.353},{"a":1.65,"t":39000,"v":0.353},{"a":1.7,"t":39000,"v":0.353},{"a":1.75,"t":39000,"v":0.353},{"a":1.8,"t":39000,"v":0.353},{"a":1.85,"t":39000,"v":0.353},{"a":1.9,"t":39000,"v":0.353},{"a":1.95,"t":39000,"v":0.353}
    ],
    "caption": [
      {"line": 1, "text": "Figure 12: Center: ΔDCR induced as a function of flare temperature and airmass in LSST g-band. Right: Box-and-whiskers plot of"},
      {"line": 2, "text": "peak effective flare temperatures measured by Howard et al. (2020). Top: histogram of the per-visit airmass in the current LSST"},
      {"line": 3, "text": "baseline observing strategy (baseline_v3.0_10yrs, Bianco & The Rubin Observatory Survey Cadence Optimization"},
      {"line": 4, "text": "Committee 2023). The median airmass and temperature are indicated by orange lines."}
    ]
  },
  "vconcat": [
    {
      "width": 680, "height": 13,
      "view": {"fill": "#222222", "stroke": null},
      "data": {"values": []},
      "mark": "point",
      "encoding": {}
    },
    {
      "spacing": 7,
      "hconcat": [
        {
          "width": 100, "height": 465,
          "view": {"fill": "#222222", "stroke": null},
          "data": {"values": []},
          "mark": "point",
          "encoding": {}
        },
        {
          "columns": 2,
          "spacing": {"row": 4, "column": 7},
          "resolve": {
            "scale": {"color": "independent", "stroke": "independent", "strokeDash": "independent"},
            "legend": {"strokeDash": "independent"}
          },
          "concat": [
            {
              "width": 313, "height": 1,
              "view": {"stroke": null},
              "data": {"values": []},
              "mark": "point",
              "encoding": {}
            },
            {
              "width": 78, "height": 1,
              "view": {"stroke": null},
              "data": {"values": []},
              "mark": "point",
              "encoding": {}
            },
            {
              "width": 313, "height": 79,
              "title": {"text": "LSST Airmass Distribution (baseline_v3.0_10yrs)", "offset": 2},
              "resolve": {"axis": {"x": "independent"}},
              "layer": [
                {
                  "data": {"name": "hist"},
                  "mark": {"type": "line", "interpolate": "step-after", "color": "#111111", "strokeWidth": 1, "clip": true},
                  "encoding": {
                    "x": {
                      "field": "e", "type": "quantitative",
                      "scale": {"domain": [1.025, 2.0], "nice": false, "zero": false},
                      "axis": {"orient": "top", "title": null, "format": ".2f", "values": [1.05, 1.15, 1.25, 1.35, 1.45, 1.55, 1.65, 1.75, 1.85, 1.95]}
                    },
                    "y": {
                      "field": "n", "type": "quantitative",
                      "scale": {"domain": [0, 400000], "nice": false},
                      "axis": {"values": [0, 100000, 200000, 300000, 400000], "format": "d", "title": "Nᵥᵢₛᵢₜₛ", "titlePadding": 3}
                    }
                  }
                },
                {
                  "data": {"values": [{}]},
                  "mark": {"type": "rule", "color": "#e3a24a", "strokeWidth": 1.5},
                  "encoding": {
                    "x": {
                      "datum": 1.2, "type": "quantitative",
                      "scale": {"domain": [1.025, 2.0], "nice": false, "zero": false},
                      "axis": {"orient": "top", "title": null, "labels": false, "tickSize": 2, "values": [1.1, 1.2, 1.3, 1.4, 1.5, 1.6, 1.7, 1.8, 1.9]}
                    }
                  }
                }
              ]
            },
            {
              "width": 78, "height": 79,
              "data": {"values": [{"lo": 0, "hi": 0.365}]},
              "mark": {
                "type": "rect",
                "color": {
                  "gradient": "linear", "x1": 0, "y1": 1, "x2": 0, "y2": 0,
                  "stops": [
                    {"offset": 0, "color": "#4b0012"},
                    {"offset": 0.1096, "color": "#6a0a14"},
                    {"offset": 0.2192, "color": "#981418"},
                    {"offset": 0.3288, "color": "#b52019"},
                    {"offset": 0.4384, "color": "#c6401f"},
                    {"offset": 0.5479, "color": "#cc6428"},
                    {"offset": 0.6575, "color": "#d08838"},
                    {"offset": 0.7671, "color": "#d6a84c"},
                    {"offset": 0.8767, "color": "#dcc470"},
                    {"offset": 1, "color": "#e3dfa8"}
                  ]
                }
              },
              "encoding": {
                "y": {
                  "field": "lo", "type": "quantitative",
                  "scale": {"domain": [0, 0.365], "nice": false},
                  "axis": {"orient": "right", "values": [0, 0.1, 0.2, 0.3], "format": ".1f", "title": "ΔDCR (arcsec)", "titleAngle": 270, "titleBaseline": "top", "titlePadding": 4}
                },
                "y2": {"field": "hi"}
              }
            },
            {
              "width": 313, "height": 312,
              "resolve": {"axis": {"x": "independent", "y": "independent"}},
              "layer": [
                {
                  "data": {"name": "hl"},
                  "mark": {"type": "rect", "strokeWidth": 0.5, "binSpacing": 0},
                  "encoding": {
                    "x": {
                      "field": "a", "type": "quantitative", "bin": {"binned": true, "step": 0.025},
                      "scale": {"domain": [1.025, 2.0], "nice": false, "zero": false},
                      "axis": {"orient": "bottom", "title": "Airmass (X)", "titlePadding": 3, "format": ".2f", "values": [1.05, 1.15, 1.25, 1.35, 1.45, 1.55, 1.65, 1.75, 1.85, 1.95]}
                    },
                    "y": {
                      "field": "t", "type": "quantitative", "bin": {"binned": true, "step": 2000},
                      "scale": {"domain": [2000, 40000], "reverse": true, "nice": false, "zero": false},
                      "axis": {"orient": "left", "title": "Flare Temperature (K)", "titlePadding": 4, "format": "d", "values": [4000, 8000, 12000, 16000, 20000, 24000, 28000, 32000, 36000, 40000]}
                    },
                    "color": {
                      "field": "v", "type": "quantitative", "legend": null,
                      "scale": {"type": "linear", "domain": [0, 0.04, 0.08, 0.12, 0.16, 0.2, 0.24, 0.28, 0.32, 0.365], "range": ["#4b0012", "#6a0a14", "#981418", "#b52019", "#c6401f", "#cc6428", "#d08838", "#d6a84c", "#dcc470", "#e3dfa8"], "interpolate": "rgb", "clamp": true}
                    },
                    "stroke": {
                      "field": "v", "type": "quantitative", "legend": null,
                      "scale": {"type": "linear", "domain": [0, 0.04, 0.08, 0.12, 0.16, 0.2, 0.24, 0.28, 0.32, 0.365], "range": ["#4b0012", "#6a0a14", "#981418", "#b52019", "#c6401f", "#cc6428", "#d08838", "#d6a84c", "#dcc470", "#e3dfa8"], "interpolate": "rgb", "clamp": true}
                    }
                  }
                },
                {
                  "data": {"name": "hr"},
                  "mark": {"type": "rect", "strokeWidth": 0.5, "binSpacing": 0},
                  "encoding": {
                    "x": {
                      "field": "a", "type": "quantitative", "bin": {"binned": true, "step": 0.05},
                      "scale": {"domain": [1.025, 2.0], "nice": false, "zero": false}, "axis": null
                    },
                    "y": {
                      "field": "t", "type": "quantitative", "bin": {"binned": true, "step": 1000},
                      "scale": {"domain": [2000, 40000], "reverse": true, "nice": false, "zero": false}, "axis": null
                    },
                    "color": {
                      "field": "v", "type": "quantitative", "legend": null,
                      "scale": {"type": "linear", "domain": [0, 0.04, 0.08, 0.12, 0.16, 0.2, 0.24, 0.28, 0.32, 0.365], "range": ["#4b0012", "#6a0a14", "#981418", "#b52019", "#c6401f", "#cc6428", "#d08838", "#d6a84c", "#dcc470", "#e3dfa8"], "interpolate": "rgb", "clamp": true}
                    },
                    "stroke": {
                      "field": "v", "type": "quantitative", "legend": null,
                      "scale": {"type": "linear", "domain": [0, 0.04, 0.08, 0.12, 0.16, 0.2, 0.24, 0.28, 0.32, 0.365], "range": ["#4b0012", "#6a0a14", "#981418", "#b52019", "#c6401f", "#cc6428", "#d08838", "#d6a84c", "#dcc470", "#e3dfa8"], "interpolate": "rgb", "clamp": true}
                    }
                  }
                },
                {
                  "data": {"values": [{}]},
                  "mark": {"type": "rule", "color": "white", "strokeWidth": 1.2, "opacity": 0.9},
                  "encoding": {
                    "x": {
                      "datum": 1.2, "type": "quantitative",
                      "scale": {"domain": [1.025, 2.0], "nice": false, "zero": false},
                      "axis": {"orient": "bottom", "title": null, "labels": false, "tickSize": 2, "values": [1.1, 1.2, 1.3, 1.4, 1.5, 1.6, 1.7, 1.8, 1.9]}
                    },
                    "strokeDash": {
                      "datum": "Median", "type": "nominal",
                      "scale": {"domain": ["Median"], "range": [[4.5, 2.5]]},
                      "legend": {"title": null, "orient": "top-right", "offset": 4, "padding": 3, "fillColor": "#000000", "strokeColor": "#777777", "cornerRadius": 2, "labelColor": "white", "labelFont": "DejaVu Sans", "labelFontSize": 8.4, "symbolType": "stroke", "symbolStrokeColor": "white", "symbolStrokeWidth": 1.3, "symbolSize": 150}
                    }
                  }
                },
                {
                  "data": {"values": [{}]},
                  "mark": {"type": "rule", "color": "white", "strokeWidth": 1.2, "opacity": 0.9},
                  "encoding": {
                    "y": {
                      "datum": 10900, "type": "quantitative",
                      "scale": {"domain": [2000, 40000], "reverse": true, "nice": false, "zero": false},
                      "axis": {"orient": "left", "title": null, "labels": false, "tickSize": 2, "values": [6000, 10000, 14000, 18000, 22000, 26000, 30000, 34000, 38000]}
                    },
                    "strokeDash": {
                      "datum": "Median", "type": "nominal",
                      "scale": {"domain": ["Median"], "range": [[4.5, 2.5]]},
                      "legend": {"title": null, "orient": "top-right", "offset": 4, "padding": 3, "fillColor": "#000000", "strokeColor": "#777777", "cornerRadius": 2, "labelColor": "white", "labelFont": "DejaVu Sans", "labelFontSize": 8.4, "symbolType": "stroke", "symbolStrokeColor": "white", "symbolStrokeWidth": 1.3, "symbolSize": 150}
                    }
                  }
                }
              ]
            },
            {
              "width": 78, "height": 312,
              "resolve": {"axis": {"y": "independent"}},
              "encoding": {
                "x": {"field": "s", "type": "nominal", "axis": null, "scale": {"paddingInner": 0, "paddingOuter": 0}}
              },
              "layer": [
                {
                  "data": {"name": "box"},
                  "mark": {"type": "rule", "color": "#111111", "strokeWidth": 0.9},
                  "encoding": {
                    "y": {
                      "field": "lo", "type": "quantitative",
                      "scale": {"domain": [2000, 40000], "reverse": true, "nice": false, "zero": false},
                      "axis": {"orient": "right", "title": "Peak Flare Teff (Howard et al. 2020)", "titleAngle": 270, "titleBaseline": "top", "titlePadding": 3, "format": "d", "values": [4000, 8000, 12000, 16000, 20000, 24000, 28000, 32000, 36000, 40000]}
                    },
                    "y2": {"field": "hi"}
                  }
                },
                {
                  "data": {"name": "box"},
                  "mark": {"type": "bar", "size": 11.5, "fill": "#dcdcdc", "stroke": "#111111", "strokeWidth": 0.9},
                  "encoding": {
                    "y": {
                      "field": "q1", "type": "quantitative",
                      "scale": {"domain": [2000, 40000], "reverse": true, "nice": false, "zero": false},
                      "axis": {"orient": "right", "title": null, "labels": false, "tickSize": 2, "values": [6000, 10000, 14000, 18000, 22000, 26000, 30000, 34000, 38000]}
                    },
                    "y2": {"field": "q3"}
                  }
                },
                {
                  "data": {"name": "box"},
                  "mark": {"type": "tick", "color": "#111111", "size": 5, "thickness": 0.9},
                  "encoding": {
                    "y": {"field": "lo", "type": "quantitative", "scale": {"domain": [2000, 40000], "reverse": true, "nice": false, "zero": false}, "axis": null}
                  }
                },
                {
                  "data": {"name": "box"},
                  "mark": {"type": "tick", "color": "#111111", "size": 5, "thickness": 0.9},
                  "encoding": {
                    "y": {"field": "hi", "type": "quantitative", "scale": {"domain": [2000, 40000], "reverse": true, "nice": false, "zero": false}, "axis": null}
                  }
                },
                {
                  "data": {"name": "box"},
                  "mark": {"type": "tick", "color": "#e0a070", "size": 11.5, "thickness": 1.2},
                  "encoding": {
                    "y": {"field": "med", "type": "quantitative", "scale": {"domain": [2000, 40000], "reverse": true, "nice": false, "zero": false}, "axis": null}
                  }
                },
                {
                  "data": {"name": "out"},
                  "mark": {"type": "point", "filled": false, "color": "#111111", "size": 22, "strokeWidth": 0.8},
                  "encoding": {
                    "y": {"field": "t", "type": "quantitative", "scale": {"domain": [2000, 40000], "reverse": true, "nice": false, "zero": false}, "axis": null}
                  }
                }
              ]
            }
          ]
        },
        {
          "width": 70, "height": 465,
          "view": {"fill": "#222222", "stroke": null},
          "data": {"values": []},
          "mark": "point",
          "encoding": {}
        }
      ]
    },
    {
      "width": 680, "height": 108,
      "view": {"fill": "#222222", "stroke": null},
      "data": {"name": "caption"},
      "mark": {"type": "text", "align": "left", "baseline": "middle", "font": "Lato", "fontSize": 11, "color": "#e2e2e2", "clip": true},
      "encoding": {
        "x": {"datum": 0, "type": "quantitative", "scale": {"domain": [-46, 634], "nice": false, "zero": false}, "axis": null},
        "y": {"field": "line", "type": "quantitative", "scale": {"domain": [-0.55, 5.45], "reverse": true, "nice": false, "zero": false}, "axis": null},
        "text": {"field": "text"}
      }
    }
  ]
}
